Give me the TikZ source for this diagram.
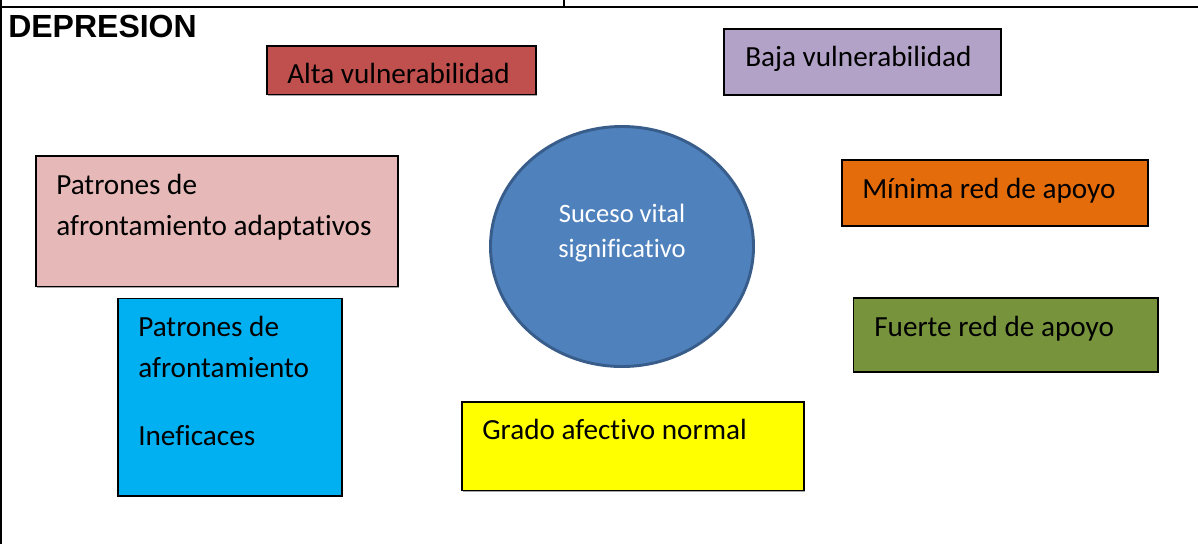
\documentclass[tikz,border=0pt]{standalone}
\usepackage{fontspec}
\setmainfont[Ligatures={NoCommon,NoContextual}]{Carlito}
\newfontfamily\hdfont{Liberation Sans}
\usetikzlibrary{shapes.geometric,shadows}
\definecolor{altac}{HTML}{C0504D}
\definecolor{bajac}{HTML}{B3A2C7}
\definecolor{pinkc}{HTML}{E6B9B8}
\definecolor{orangec}{HTML}{E46C0A}
\definecolor{greenc}{HTML}{77933C}
\definecolor{bluec}{HTML}{00B0F0}
\definecolor{yellowc}{HTML}{FFFF00}
\definecolor{ellf}{HTML}{4F81BD}
\definecolor{ellb}{HTML}{385D8A}
\newcommand\mybox[6]{\node[box, fill=#2, minimum width={(#5-#3)*0.75pt}, minimum height={(#6-#4)*0.75pt}] (#1) at (#3,#4) {};}
\begin{document}
\begin{tikzpicture}[x=0.75pt,y=-0.75pt,
  box/.style={draw=black, line width=1.25pt, rectangle, inner sep=0pt, anchor=north west,
    drop shadow={shadow xshift=0.6pt, shadow yshift=-0.9pt, fill=black!35, opacity=1}},
  txt/.style={anchor=base west, inner sep=0pt, font=\fontsize{21.9}{26}\selectfont, text=black},
  etxt/.style={anchor=base, inner sep=0pt, font=\fontsize{19.9}{24}\selectfont, text=white},
  frame/.style={draw=black, line width=1.5pt}]
\useasboundingbox (0,0) rectangle (1198,544);
% table frame
\coordinate (tl) at (0,7);
\coordinate (tr) at (1198,7);
\coordinate (l0) at (1,0);
\coordinate (l1) at (1,544);
\coordinate (m0) at (564,0);
\coordinate (m1) at (564,7);
\draw[frame] (tl) -- (tr);
\draw[frame, line width=1.2pt] (l0) -- (l1);
\draw[frame, line width=1.2pt] (m0) -- (m1);
% title
\node[anchor=base west, inner sep=0pt, font=\hdfont\bfseries\fontsize{24}{28}\selectfont] (title) at (8,37) {DEPRESION};
% boxes
\mybox{alta}{altac}{266}{45}{535}{93.5}
\mybox{baja}{bajac}{723}{28}{1000}{94}
\mybox{adapt}{pinkc}{35}{155}{397}{285.5}
\mybox{minima}{orangec}{841}{159}{1147}{225}
\mybox{fuerte}{greenc}{852.5}{297}{1157}{371}
\mybox{inef}{bluec}{117}{297.5}{341}{495}
\mybox{grado}{yellowc}{461}{401}{803}{489.5}
% ellipse
\node[ellipse, draw=ellb, line width=2.2pt, fill=ellf, minimum width=197.25pt, minimum height=180pt, inner sep=0pt] (suceso) at (622,246.5) {};
% texts
\node[txt] (altaT) at (287,83) {Alta vulnerabilidad};
\node[txt] (bajaT) at (745,66) {Baja vulnerabilidad};
\node[txt] (adaptT1) at (56,194) {Patrones de};
\node[txt] (adaptT2) at (56,235) {afrontamiento adaptativos};
\node[txt] (inefT1) at (138,336) {Patrones de};
\node[txt] (inefT2) at (138,377) {afrontamiento};
\node[txt] (inefT3) at (138,445) {Ineficaces};
\node[txt] (minimaT) at (862,198.5) {Mínima red de apoyo};
\node[txt] (fuerteT) at (874,336) {Fuerte red de apoyo};
\node[txt] (gradoT) at (482,439) {Grado afectivo normal};
\node[etxt] (sucesoT1) at (622,222) {Suceso vital};
\node[etxt] (sucesoT2) at (622,257) {significativo};
\end{tikzpicture}
\end{document}
